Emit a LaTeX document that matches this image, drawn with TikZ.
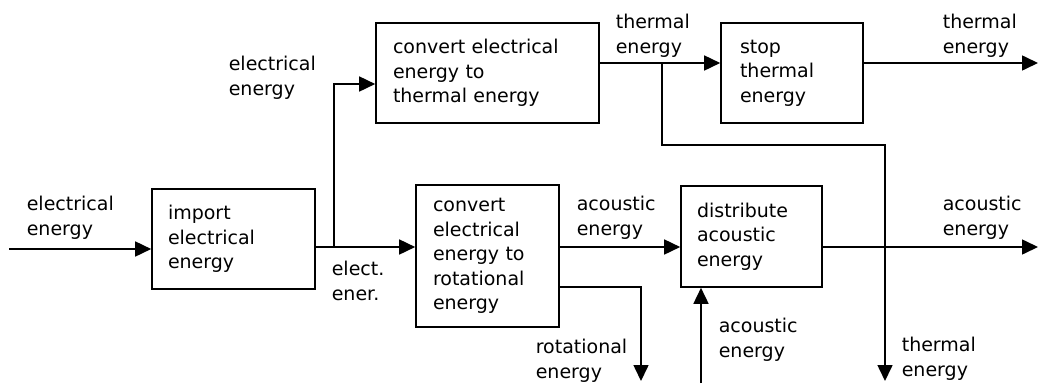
\documentclass[tikz,border=0pt]{standalone}
\usepackage{fontspec}
\setmainfont{DejaVu Sans}
\usetikzlibrary{arrows.meta}
\begin{document}
\begin{tikzpicture}[x=1pt,y=-1pt,
  font=\fontsize{19}{24.5}\selectfont,
  line width=1.6pt,
  box/.style={draw, rectangle, align=left, inner ysep=0pt},
  lbl/.style={align=left, anchor=west, inner sep=0pt},
  arr/.style={-{Triangle[length=16pt,width=15pt]}},
  ]
\useasboundingbox (0,0) rectangle (1039,383);
% boxes
\node[box, text width=131pt, inner xsep=16pt, minimum height=100pt] (imp) at (233.5,239) {import\\electrical\\energy};
\node[box, text width=189pt, inner xsep=17pt, minimum height=100pt] (cth) at (487.5,73) {convert electrical\\energy to\\thermal energy};
\node[box, text width=104pt, inner xsep=19pt, minimum height=100pt] (stp) at (792,73) {stop\\thermal\\energy};
\node[box, text width=109pt, inner xsep=17pt, minimum height=142pt] (crt) at (487.5,256) {convert\\electrical\\energy to\\rotational\\energy};
\node[box, text width=109pt, inner xsep=16pt, minimum height=101pt] (dst) at (751.5,236.5) {distribute\\acoustic\\energy};
% coordinates
\coordinate (in) at (9,249);
\coordinate (j1) at (334,247);
\coordinate (j1t) at (334,84);
\coordinate (rotc) at (641,287);
\coordinate (rotend) at (641,381);
\coordinate (acin) at (701,383);
\coordinate (acout) at (1038,247);
\coordinate (thout) at (1038,63);
\coordinate (j2) at (662,63);
\coordinate (j2b) at (662,145);
\coordinate (thc) at (885,145);
\coordinate (thend) at (885,381);
% connectors
\draw[arr] (in) -- (in -| imp.west);
\draw (imp.east |- j1) -- (j1);
\draw[arr] (j1) -- (j1 -| crt.west);
\draw[arr] (j1) -- (j1t) -- (j1t -| cth.west);
\draw[arr] (crt.east |- j1) -- (dst.west |- j1);
\draw[arr] (crt.east |- rotc) -- (rotc) -- (rotend);
\draw[arr] (acin) -- (acin |- dst.south);
\draw[arr] (dst.east |- acout) -- (acout);
\draw (cth.east |- j2) -- (j2);
\draw[arr] (j2) -- (j2 -| stp.west);
\draw[arr] (j2) -- (j2b) -- (thc) -- (thend);
\draw[arr] (stp.east |- thout) -- (thout);
% labels
\node[lbl] (l1) at (26,218) {electrical\\energy};
\node[lbl] (l2) at (228,78) {electrical\\energy};
\node[lbl] (l3) at (331,281) {elect.\\ener.};
\node[lbl] (l4) at (615,36) {thermal\\energy};
\node[lbl] (l5) at (942,36) {thermal\\energy};
\node[lbl] (l6) at (576,218) {acoustic\\energy};
\node[lbl] (l7) at (942,218) {acoustic\\energy};
\node[lbl] (l8) at (535,361) {rotational\\energy};
\node[lbl] (l9) at (718,340) {acoustic\\energy};
\node[lbl] (l10) at (901,359) {thermal\\energy};
\end{tikzpicture}
\end{document}
